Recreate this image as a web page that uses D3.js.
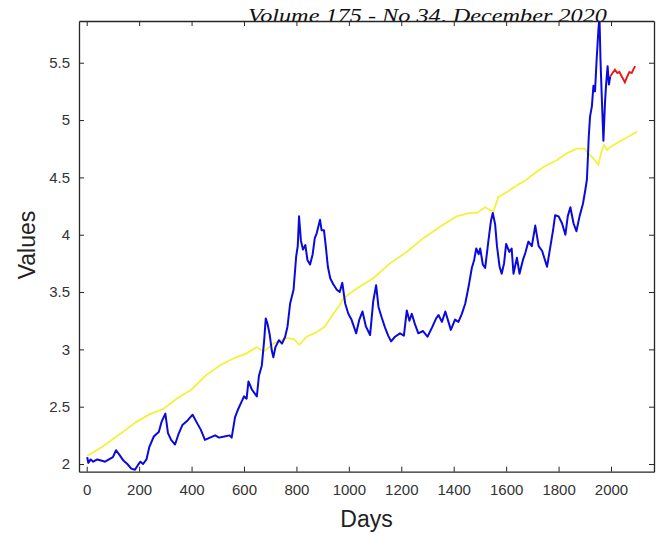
<!DOCTYPE html>
<html>
<head>
<meta charset="utf-8">
<script src="https://cdn.jsdelivr.net/npm/d3@7"></script>
<style>
  html, body { margin: 0; padding: 0; background: #fff; }
  svg { display: block; }
</style>
</head>
<body>
<svg class="chart" width="665" height="537"></svg>
<script>
// values
var blueDays = [2,6,15,25,40,55,70,85,100,112,125,140,155,170,184,195,205,215,228,239,256,265,275,286,300,310,322,337,350,365,385,404,418,435,451,470,490,505,525,545,553,566,578,590,600,610,617,630,649,657,668,677,683,690,698,706,712,720,733,745,757,766,776,789,799,805,810,817,825,834,842,852,862,870,877,890,896,905,912,920,929,940,954,965,975,986,998,1010,1028,1040,1052,1065,1081,1093,1104,1113,1125,1138,1150,1161,1176,1195,1210,1221,1231,1240,1252,1265,1283,1300,1317,1333,1342,1355,1368,1380,1389,1405,1418,1431,1444,1457,1469,1478,1486,1495,1501,1511,1520,1533,1542,1549,1558,1565,1575,1583,1592,1600,1612,1621,1628,1641,1651,1664,1673,1685,1698,1711,1724,1737,1756,1769,1779,1787,1800,1813,1826,1835,1845,1857,1868,1880,1893,1902,1908,1912,1915,1920,1927,1933,1939,1945,1952,1956,1960,1964,1971,1977,1981,1987,1992,1997];
var blueVals = [2.06,2.01,2.04,2.02,2.04,2.03,2.02,2.04,2.06,2.12,2.08,2.03,2.00,1.96,1.95,1.99,2.02,2.00,2.04,2.15,2.24,2.26,2.28,2.37,2.44,2.27,2.21,2.17,2.26,2.34,2.38,2.43,2.37,2.30,2.21,2.23,2.25,2.23,2.24,2.25,2.23,2.41,2.48,2.54,2.59,2.57,2.72,2.65,2.59,2.77,2.86,3.08,3.27,3.22,3.13,2.99,2.93,3.02,3.08,3.05,3.11,3.20,3.40,3.52,3.81,3.90,4.16,3.95,3.87,3.91,3.78,3.74,3.83,3.97,4.01,4.13,4.04,4.04,3.90,3.72,3.62,3.57,3.52,3.50,3.58,3.40,3.31,3.26,3.14,3.26,3.33,3.20,3.125,3.42,3.56,3.37,3.28,3.19,3.12,3.07,3.11,3.14,3.12,3.34,3.25,3.31,3.22,3.14,3.16,3.11,3.19,3.27,3.30,3.24,3.33,3.24,3.17,3.26,3.24,3.31,3.40,3.55,3.71,3.78,3.88,3.83,3.88,3.74,3.71,3.96,4.12,4.19,4.09,3.90,3.72,3.66,3.75,3.92,3.85,3.88,3.66,3.80,3.66,3.78,3.84,3.94,3.90,4.08,3.90,3.86,3.72,3.90,4.04,4.17,4.16,4.10,4.00,4.16,4.24,4.10,4.03,4.16,4.27,4.39,4.48,4.68,4.85,5.03,5.12,5.30,5.25,5.52,5.79,5.90,5.52,5.25,4.82,5.15,5.30,5.47,5.31,5.38];

var yellowDays = [2,60,114,150,191,241,292,343,400,458,508,559,610,649,676,712,763,790,811,839,877,909,941,966,979,1030,1093,1157,1221,1284,1348,1411,1462,1490,1519,1551,1570,1602,1640,1678,1691,1742,1793,1831,1869,1901,1913,1935,1952,1963,1973,1985,2000,2047,2100];
var yellowVals = [2.07,2.15,2.24,2.30,2.37,2.435,2.48,2.57,2.65,2.78,2.86,2.92,2.965,3.02,2.98,3.05,3.10,3.09,3.04,3.11,3.15,3.20,3.31,3.39,3.445,3.53,3.62,3.75,3.85,3.97,4.07,4.16,4.19,4.19,4.24,4.20,4.33,4.37,4.43,4.48,4.505,4.59,4.65,4.71,4.75,4.75,4.71,4.66,4.61,4.72,4.78,4.74,4.77,4.83,4.90];

var redDays = [1997,2006,2015,2024,2032,2041,2053,2062,2070,2079,2085,2092];
var redVals = [5.38,5.41,5.44,5.41,5.42,5.38,5.33,5.38,5.42,5.41,5.44,5.47];

var xTicks = [0,200,400,600,800,1000,1200,1400,1600,1800,2000];
var yTicks = [2,2.5,3,3.5,4,4.5,5,5.5];

var svg = d3.select("svg.chart");
// plot box edges (note: "top" is taken by window.top, so use other names)
var boxL = 79, boxR = 654, boxT = 21, boxB = 471.7;

var x = d3.scaleLinear().domain([-29.4, 2164]).range([boxL, boxR]);
var y = d3.scaleLinear().domain([1.933, 5.864]).range([boxB, boxT]);

// page header that sits behind the figure
svg.append("text")
    .attr("x", 248)
    .attr("y", 22)
    .attr("textLength", 359)
    .attr("lengthAdjust", "spacingAndGlyphs")
    .style("font-family", "'Liberation Serif', 'DejaVu Serif', serif")
    .style("font-style", "italic")
    .style("font-size", "19px")
    .attr("fill", "#111")
    .text("Volume 175 - No 34, December 2020");

svg.append("rect")
    .attr("x", boxL).attr("y", boxT)
    .attr("width", boxR - boxL).attr("height", boxB - boxT)
    .attr("fill", "#fff");

svg.append("clipPath").attr("id", "plotClip")
    .append("rect")
    .attr("x", boxL).attr("y", boxT)
    .attr("width", boxR - boxL).attr("height", boxB - boxT);

function zip(days, vals){
    return days.map(function(d,i){ return [d, vals[i]]; });
}

var line = d3.line()
    .x(function(d){ return x(d[0]); })
    .y(function(d){ return y(d[1]); });

var lines = svg.append("g").attr("clip-path", "url(#plotClip)");

lines.append("path")
    .datum(zip(yellowDays, yellowVals))
    .attr("d", line)
    .attr("fill", "none")
    .attr("stroke", "#f5f03c")
    .attr("stroke-width", 1.8);

lines.append("path")
    .datum(zip(blueDays, blueVals))
    .attr("d", line)
    .attr("fill", "none")
    .attr("stroke", "#0a0ade")
    .attr("stroke-width", 2)
    .attr("stroke-linejoin", "round");

lines.append("path")
    .datum(zip(redDays, redVals))
    .attr("d", line)
    .attr("fill", "none")
    .attr("stroke", "#e81818")
    .attr("stroke-width", 1.9);

// axes, MATLAB style: ticks point inward on all four sides
var axisColor = "#262626";
var tickFont = "'Liberation Sans', Arial, sans-serif";

var xAxis = svg.append("g")
    .attr("transform", "translate(0," + boxB + ")")
    .call(d3.axisBottom(x).tickValues(xTicks).tickSizeInner(-5).tickSizeOuter(0).tickPadding(13)
        .tickFormat(d3.format("d")));
var yAxis = svg.append("g")
    .attr("transform", "translate(" + boxL + ",0)")
    .call(d3.axisLeft(y).tickValues(yTicks).tickSizeInner(-5).tickSizeOuter(0).tickPadding(9)
        .tickFormat(function(d){ return String(d); }));
var xTop = svg.append("g")
    .attr("transform", "translate(0," + boxT + ")")
    .call(d3.axisTop(x).tickValues(xTicks).tickSizeInner(-5).tickSizeOuter(0).tickFormat(""));
var yRight = svg.append("g")
    .attr("transform", "translate(" + boxR + ",0)")
    .call(d3.axisRight(y).tickValues(yTicks).tickSizeInner(-5).tickSizeOuter(0).tickFormat(""));

[xAxis, yAxis, xTop, yRight].forEach(function(g){
    g.select(".domain").attr("stroke", axisColor).attr("stroke-width", 1.3);
    g.selectAll(".tick line").attr("stroke", axisColor);
    g.selectAll(".tick text")
        .attr("fill", "#333")
        .style("font-family", tickFont)
        .style("font-size", "15px");
});

svg.append("text")
    .attr("x", 366.5)
    .attr("y", 527)
    .attr("text-anchor", "middle")
    .attr("fill", "#222")
    .style("font-family", tickFont)
    .style("font-size", "23px")
    .text("Days");

svg.append("text")
    .attr("transform", "translate(35,245) rotate(-90)")
    .attr("text-anchor", "middle")
    .attr("fill", "#222")
    .style("font-family", tickFont)
    .style("font-size", "23px")
    .text("Values");
</script>
</body>
</html>
